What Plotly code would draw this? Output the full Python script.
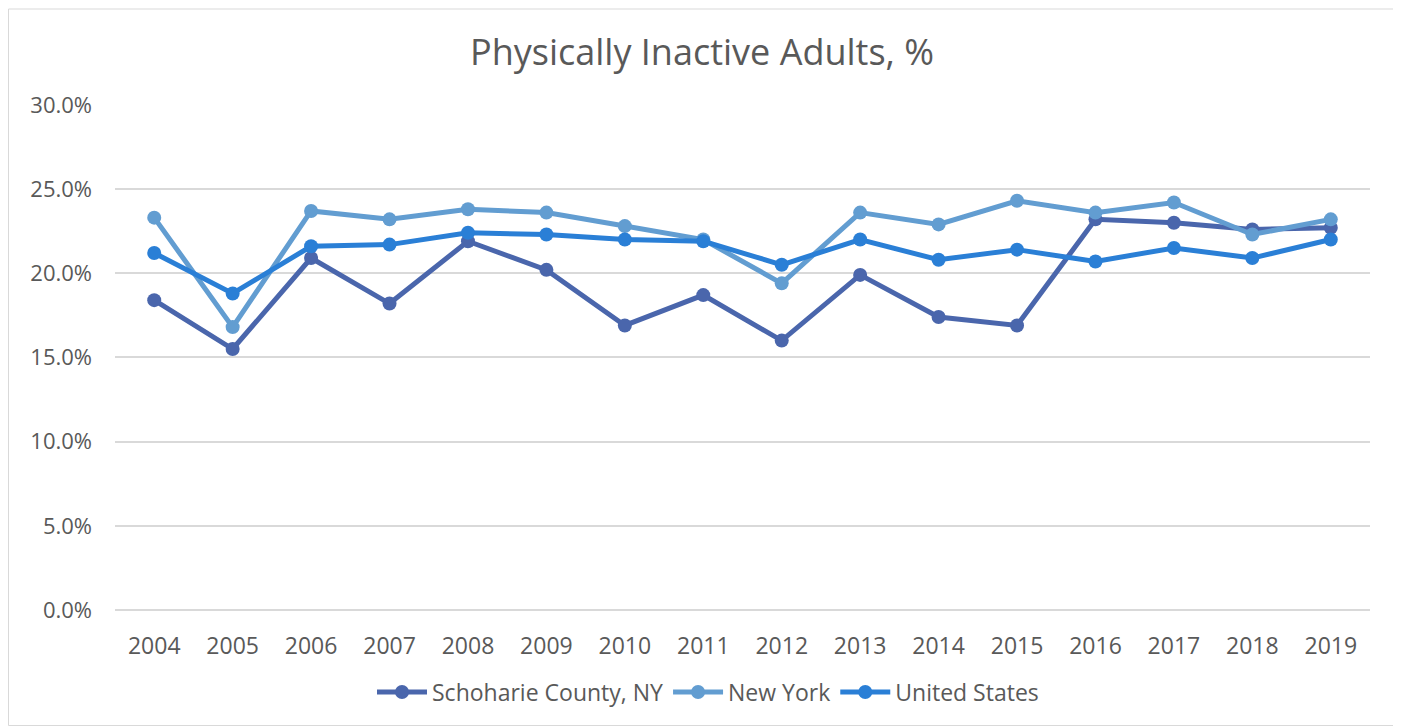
import plotly.graph_objects as go

years = [str(y) for y in range(2004, 2020)]
schoharie = [18.4, 15.5, 20.9, 18.2, 21.9, 20.2, 16.9, 18.7, 16.0, 19.9, 17.4, 16.9, 23.2, 23.0, 22.6, 22.7]
new_york = [23.3, 16.8, 23.7, 23.2, 23.8, 23.6, 22.8, 22.0, 19.4, 23.6, 22.9, 24.3, 23.6, 24.2, 22.3, 23.2]
united_states = [21.2, 18.8, 21.6, 21.7, 22.4, 22.3, 22.0, 21.9, 20.5, 22.0, 20.8, 21.4, 20.7, 21.5, 20.9, 22.0]

series = [
    ("Schoharie County, NY", schoharie, "#4A66AC"),
    ("New York", new_york, "#629DD1"),
    ("United States", united_states, "#2A7FD6"),
]

FONT = "Open Sans, Lato, sans-serif"
TXT = "#595959"
OFF = 8  # browser default body margin

# target page coordinates, converted to figure coordinates
L, R, T, B = 115 - OFF, 1370 - OFF, 104 - OFF, 610 - OFF
W, H = 1401 - OFF, 726 - OFF

fig = go.Figure()
for name, vals, color in series:
    fig.add_trace(go.Scatter(
        x=years, y=[v / 100 for v in vals], name=name, mode="lines+markers",
        line=dict(color=color, width=5),
        marker=dict(color=color, size=14),
    ))

fig.update_layout(
    width=W, height=H,
    margin=dict(l=L, r=W - R, t=T, b=H - B, pad=0),
    paper_bgcolor="white", plot_bgcolor="white",
    font=dict(family=FONT, color=TXT, size=22),
    title=dict(text="Physically Inactive Adults, %", x=(702 - OFF) / W, xanchor="center",
               y=1 - (52 - OFF) / H, yanchor="middle",
               font=dict(size=36, color=TXT, family=FONT)),
    xaxis=dict(type="category", range=[-0.5, len(years) - 0.5], showgrid=False,
               showline=False, zeroline=False,
               ticks="", tickfont=dict(size=23, color=TXT), ticklabelstandoff=20),
    yaxis=dict(range=[0, 0.3005], dtick=0.05, tickformat=".1%", showgrid=True,
               gridcolor="#D9D9D9", gridwidth=1.5, zeroline=True, zerolinecolor="#D9D9D9",
               zerolinewidth=1.5, showline=False,
               ticks="", tickfont=dict(size=22, color=TXT), ticklabelstandoff=22),
    legend=dict(orientation="h", x=(708 - OFF - L) / (R - L), xanchor="center",
                y=-(692 - OFF - B) / (B - T), yanchor="middle", font=dict(size=23, color=TXT),
                itemwidth=50, tracegroupgap=0),
    showlegend=True,
)

fig.add_shape(type="rect", xref="paper", yref="paper",
              x0=(0.5 - L) / (R - L), x1=(1398 - OFF - L) / (R - L),
              y0=(B - (H - 0.5)) / (B - T), y1=(B - 1) / (B - T),
              line=dict(color="#D9D9D9", width=1), fillcolor="rgba(0,0,0,0)", layer="below")

fig.write_html("out.html")
